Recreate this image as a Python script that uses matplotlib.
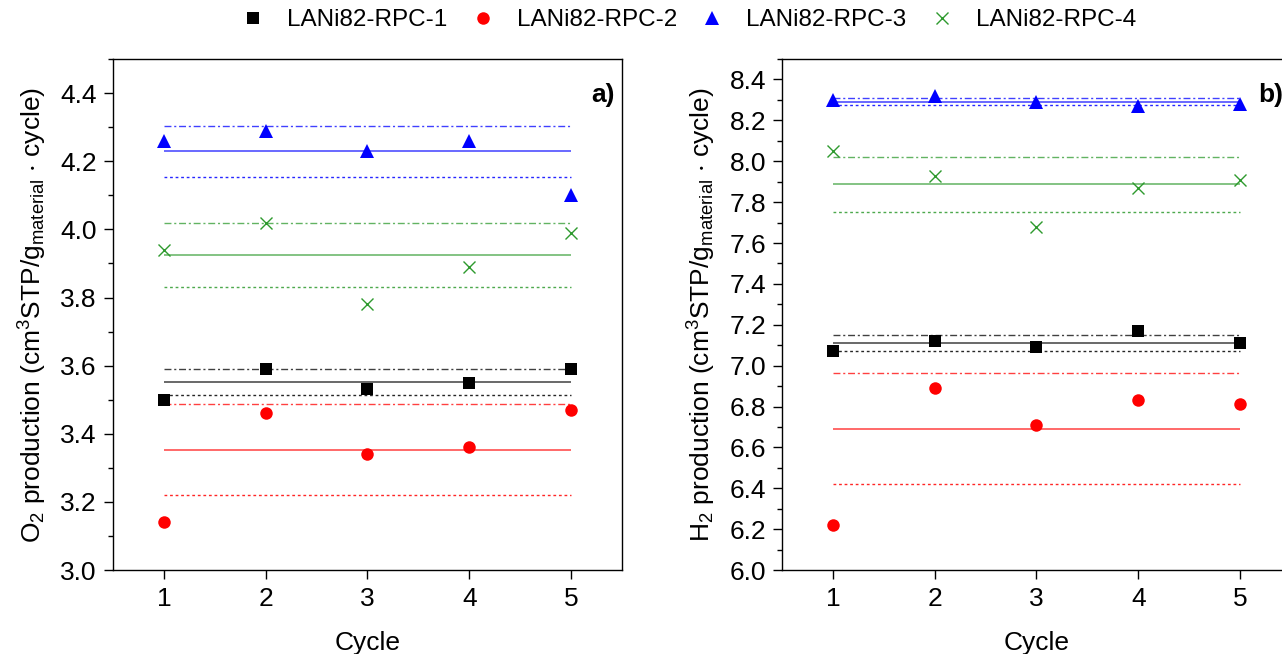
import numpy as np
import matplotlib
matplotlib.use("Agg")
import matplotlib.pyplot as plt
from matplotlib.ticker import MultipleLocator

plt.rcParams['font.family'] = ['Liberation Sans', 'DejaVu Sans']
plt.rcParams['mathtext.default'] = 'regular'
plt.rcParams['font.size'] = 19

# Production per cycle for each sample
cycles = [1, 2, 3, 4, 5]
labels = ['LANi82-RPC-1', 'LANi82-RPC-2', 'LANi82-RPC-3', 'LANi82-RPC-4']

o2_rpc1 = [3.50, 3.59, 3.53, 3.55, 3.59]
o2_rpc2 = [3.14, 3.46, 3.34, 3.36, 3.47]
o2_rpc3 = [4.26, 4.29, 4.23, 4.26, 4.10]
o2_rpc4 = [3.94, 4.02, 3.78, 3.89, 3.99]

h2_rpc1 = [7.07, 7.12, 7.09, 7.17, 7.11]
h2_rpc2 = [6.22, 6.89, 6.71, 6.83, 6.81]
h2_rpc3 = [8.30, 8.32, 8.29, 8.27, 8.28]
h2_rpc4 = [8.05, 7.93, 7.68, 7.87, 7.91]

# mean, mean + sd, mean - sd for each sample (RPC-1..4)
o2_mean = [3.553, 3.353, 4.230, 3.925]
o2_upper = [3.590, 3.486, 4.303, 4.019]
o2_lower = [3.513, 3.221, 4.153, 3.830]

h2_mean = [7.111, 6.692, 8.291, 7.887]
h2_upper = [7.150, 6.964, 8.310, 8.022]
h2_lower = [7.072, 6.420, 8.273, 7.751]

colors = ['black', '#ff0000', '#0000ff', '#2e9a2e']
markers = ['s', 'o', '^', 'x']
msizes = [8.5, 9, 10.5, 9]

fig = plt.figure(figsize=(12.82, 6.54), dpi=100)
ax1 = fig.add_axes([0.0881, 0.1284, 0.3970, 0.7813])
ax2 = fig.add_axes([0.6100, 0.1284, 0.3970, 0.7813])


def draw_panel(ax, series, means, uppers, lowers):
    handles = []
    for i, ys in enumerate(series):
        c = colors[i]
        ax.hlines(uppers[i], 1, 5, colors=c, linewidth=1.0, alpha=0.75,
                  linestyles=(0, (5, 2, 1.5, 2)))
        ax.hlines(means[i], 1, 5, colors=c, linewidth=1.1, alpha=0.75,
                  linestyles='-')
        ax.hlines(lowers[i], 1, 5, colors=c, linewidth=1.0, alpha=0.85,
                  linestyles=(0, (2, 2)))
        if markers[i] == 'x':
            h, = ax.plot(cycles, ys, linestyle='none', marker='x', color=c,
                         markersize=msizes[i], markeredgewidth=1.0, label=labels[i],
                         zorder=3)
        else:
            h, = ax.plot(cycles, ys, linestyle='none', marker=markers[i], color=c,
                         markersize=msizes[i], markeredgewidth=0, label=labels[i],
                         zorder=3)
        handles.append(h)
    ax.set_xlim(0.5, 5.5)
    ax.set_xticks(cycles)
    ax.set_xlabel('Cycle', labelpad=14, fontsize=19)
    for sp in ax.spines.values():
        sp.set_linewidth(1.0)
    ax.tick_params(axis='both', which='major', direction='out', length=6.5,
                   width=1.0, pad=5, labelsize=19)
    ax.tick_params(axis='y', which='minor', direction='out', length=3.5,
                   width=1.0)
    ax.tick_params(axis='x', which='major', pad=6)
    return handles


handles = draw_panel(ax1, [o2_rpc1, o2_rpc2, o2_rpc3, o2_rpc4],
                     o2_mean, o2_upper, o2_lower)
ax1.set_ylim(3.0, 4.5)
ax1.yaxis.set_major_locator(MultipleLocator(0.2))
ax1.yaxis.set_minor_locator(MultipleLocator(0.1))
ax1.set_ylabel(r'O$_2$ production (cm$^3$STP/g$_{material}$ $\cdot$ cycle)',
               labelpad=8, fontsize=19)
ax1.text(0.985, 0.93, 'a)', transform=ax1.transAxes, ha='right', va='center',
         fontsize=19, fontweight='bold')

draw_panel(ax2, [h2_rpc1, h2_rpc2, h2_rpc3, h2_rpc4],
           h2_mean, h2_upper, h2_lower)
ax2.set_ylim(6.0, 8.5)
ax2.yaxis.set_major_locator(MultipleLocator(0.2))
ax2.yaxis.set_minor_locator(MultipleLocator(0.1))
ax2.set_ylabel(r'H$_2$ production (cm$^3$STP/g$_{material}$ $\cdot$ cycle)',
               labelpad=8, fontsize=19)
ax2.text(0.985, 0.93, 'b)', transform=ax2.transAxes, ha='right', va='center',
         fontsize=19, fontweight='bold')

fig.legend(handles=handles, loc='center', bbox_to_anchor=(0.537, 0.969), ncol=4,
           frameon=False, fontsize=17.5, handlelength=1.0, handletextpad=0.9,
           columnspacing=0.95, borderaxespad=0)

fig.savefig('out.png', dpi=100)
